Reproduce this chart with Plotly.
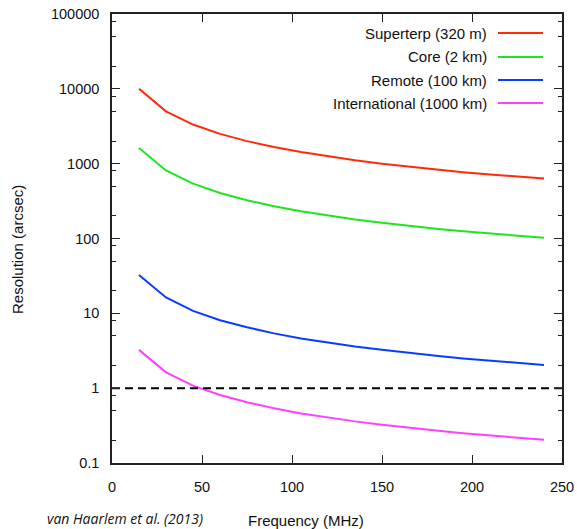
import plotly.graph_objects as go

freq = [15, 30, 45, 60, 75, 90, 105, 120, 135, 150, 165, 180, 195, 210, 225, 240]
superterp = [10000, 5000, 3330, 2500, 2000, 1670, 1430, 1250, 1110, 1000, 910, 835, 770, 715, 667, 635]
core = [1620, 810, 540, 405, 324, 270, 231, 203, 180, 162, 147, 135, 125, 116, 108, 102]
remote = [32.5, 16.3, 10.8, 8.1, 6.5, 5.4, 4.6, 4.06, 3.6, 3.25, 2.95, 2.71, 2.5, 2.32, 2.17, 2.04]
international = [3.25, 1.63, 1.08, 0.81, 0.65, 0.54, 0.46, 0.406, 0.36, 0.325, 0.295, 0.271, 0.25, 0.232, 0.217, 0.204]

names = ["Superterp (320 m)", "Core (2 km)", "Remote (100 km)", "International (1000 km)"]
colors = ["#ff2a0a", "#1ee61e", "#0a3cff", "#ff40ff"]
series = [superterp, core, remote, international]

limit_x = [0, 250]
limit_y = [1, 1]

ytickvals = [0.1, 1, 10, 100, 1000, 10000, 100000]
yticktext = ["0.1", "1", "10", "100", "1000", "10000", "100000"]
xtickvals = [0, 50, 100, 150, 200, 250]

minor_vals = []
for d in ytickvals[:-1]:
    minor_vals += [2 * d, 5 * d, 8 * d]

fig = go.Figure()
for name, col, ys in zip(names, colors, series):
    fig.add_trace(go.Scatter(x=freq, y=ys, mode="lines", name=name,
                             line=dict(color=col, width=2), showlegend=False))
fig.add_trace(go.Scatter(x=limit_x, y=limit_y, mode="lines", showlegend=False,
                         line=dict(color="black", width=2, dash="8px,5px")))

font = dict(family="Liberation Sans, Arial, sans-serif", size=15, color="#111")
tickfont = dict(family="Liberation Sans, Arial, sans-serif", size=14.5, color="#111")

PL, PR, PT, PB = 112, 562, 14, 463
PW, PH = PR - PL, PB - PT

def px_x(x):
    return (x - PL) / PW

def px_y(y):
    return 1 - (y - PT) / PH

annotations = []
shapes = []
row_y = [33, 57, 80, 103]
for name, col, ry in zip(names, colors, row_y):
    annotations.append(dict(text=name, x=px_x(489), y=px_y(ry), xref="paper", yref="paper",
                            xanchor="right", yanchor="middle", showarrow=False, font=font))
    shapes.append(dict(type="line", xref="paper", yref="paper",
                       x0=px_x(498), x1=px_x(543), y0=px_y(ry), y1=px_y(ry),
                       line=dict(color=col, width=2)))

annotations.append(dict(text="Resolution (arcsec)", textangle=-90, x=px_x(17), y=px_y(250),
                        xref="paper", yref="paper", showarrow=False, font=font,
                        xanchor="center", yanchor="middle"))
annotations.append(dict(text="Frequency (MHz)", x=px_x(306), y=px_y(520),
                        xref="paper", yref="paper", showarrow=False, font=font,
                        xanchor="center", yanchor="middle"))
annotations.append(dict(text="<i>van Haarlem et al. (2013)</i>", x=px_x(125), y=px_y(518),
                        xref="paper", yref="paper", showarrow=False,
                        font=dict(family="Open Sans, sans-serif", size=14, color="#111"),
                        xanchor="center", yanchor="middle"))

fig.update_layout(
    width=577, height=529,
    margin=dict(l=PL, r=577 - PR, t=PT, b=529 - PB, autoexpand=False),
    paper_bgcolor="white", plot_bgcolor="white",
    font=font,
    annotations=annotations, shapes=shapes,
    xaxis=dict(range=[0, 250], tickvals=xtickvals, ticks="inside", ticklen=8,
               tickwidth=1, tickcolor="#222", showline=True, linecolor="#222", linewidth=1.5,
               mirror="allticks", showgrid=False, zeroline=False, ticklabelstandoff=10,
               automargin=False, tickfont=tickfont),
    yaxis=dict(type="log", range=[-1, 5], tickvals=ytickvals, ticktext=yticktext,
               ticks="inside", ticklen=8, tickwidth=1, tickcolor="#222",
               showline=True, linecolor="#222", linewidth=1.5, mirror="allticks",
               showgrid=False, zeroline=False, ticklabelstandoff=8, automargin=False,
               tickfont=tickfont,
               minor=dict(tickvals=minor_vals, ticks="inside", ticklen=4, tickcolor="#222",
                          showgrid=False)),
)

fig.write_html("out.html")
